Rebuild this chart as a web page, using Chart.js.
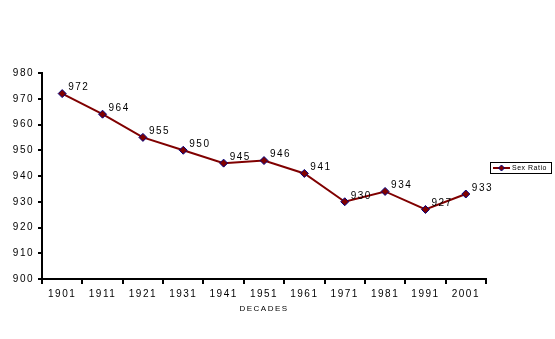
<!DOCTYPE html>
<html><head><meta charset="utf-8">
<script src="https://cdn.jsdelivr.net/npm/chart.js@4/dist/chart.umd.min.js"></script>
<style>html,body{margin:0;padding:0;background:#fff}#wrap{width:555px;height:339px;position:relative}</style>
</head><body><div id="wrap"><canvas id="c"></canvas></div>
<script>
const decades = ['1901','1911','1921','1931','1941','1951','1961','1971','1981','1991','2001'];
const sexRatio = [972, 964, 955, 950, 945, 946, 941, 930, 934, 927, 933];
const seriesName = 'Sex Ratio';
const xTitle = 'DECADES';
const yMin = 900, yMax = 980, yStep = 10;

const FONT = '"Liberation Sans", Arial, sans-serif';
const SPACING = '1.5px';

const spacingPlugin = {
  id: 'spacing',
  beforeLayout(chart) { chart.ctx.letterSpacing = SPACING; },
  beforeDraw(chart) { chart.ctx.letterSpacing = SPACING; }
};

const labelPlugin = {
  id: 'pointLabels',
  afterDatasetsDraw(chart) {
    const ctx = chart.ctx;
    const meta = chart.getDatasetMeta(0);
    ctx.save();
    ctx.letterSpacing = SPACING;
    ctx.font = '10px ' + FONT;
    ctx.fillStyle = '#000';
    ctx.textAlign = 'left';
    ctx.textBaseline = 'middle';
    meta.data.forEach((pt, i) => {
      ctx.fillText(String(sexRatio[i]), pt.x + 6, pt.y - 6);
    });
    ctx.restore();
  }
};

const legendPlugin = {
  id: 'boxLegend',
  afterDraw(chart) {
    const ctx = chart.ctx;
    const x = chart.chartArea.right + 4, y = 162, w = 61, h = 11;
    ctx.save();
    ctx.strokeStyle = '#000';
    ctx.lineWidth = 1;
    ctx.strokeRect(x + 0.5, y + 0.5, w, h);
    ctx.strokeStyle = '#800000';
    ctx.lineWidth = 2;
    ctx.beginPath(); ctx.moveTo(x + 3, y + 6); ctx.lineTo(x + 20, y + 6); ctx.stroke();
    ctx.fillStyle = '#800000';
    ctx.strokeStyle = '#000080';
    ctx.lineWidth = 1;
    const cx = x + 11.5, cy = y + 6;
    ctx.beginPath(); ctx.moveTo(cx, cy - 3); ctx.lineTo(cx + 3, cy); ctx.lineTo(cx, cy + 3); ctx.lineTo(cx - 3, cy); ctx.closePath();
    ctx.fill(); ctx.stroke();
    ctx.fillStyle = '#000';
    ctx.letterSpacing = '0.5px';
    ctx.font = '7px ' + FONT;
    ctx.textBaseline = 'middle';
    ctx.fillText(seriesName, x + 22, y + 6.5);
    ctx.restore();
  }
};

new Chart(document.getElementById('c'), {
  type: 'line',
  data: {
    labels: decades,
    datasets: [{
      label: seriesName,
      data: sexRatio,
      borderColor: '#800000',
      borderWidth: 2,
      pointStyle: 'rectRot',
      pointRadius: 4,
      pointBackgroundColor: '#800000',
      pointBorderColor: '#000080',
      pointBorderWidth: 1,
      tension: 0,
      fill: false
    }]
  },
  options: {
    responsive: true,
    maintainAspectRatio: false,
    animation: false,
    devicePixelRatio: 1,
    layout: { padding: { left: 0, right: 69, top: 73, bottom: 0 } },
    plugins: { legend: { display: false }, tooltip: { enabled: false } },
    scales: {
      x: {
        type: 'category',
        offset: true,
        grid: { display: true, offset: true, drawOnChartArea: false, drawTicks: true, tickLength: 5, color: '#000', lineWidth: 2 },
        border: { display: true, color: '#000', width: 2 },
        ticks: { color: '#000', font: { family: FONT, size: 10 }, padding: 4, maxRotation: 0, autoSkip: false },
        title: { display: true, text: xTitle, color: '#000', font: { family: FONT, size: 8 }, padding: { top: 2, bottom: 25 } },
        afterFit(s) { s.height = 60; }
      },
      y: {
        min: yMin, max: yMax,
        ticks: { stepSize: yStep, color: '#000', font: { family: FONT, size: 10 }, padding: 4 },
        grid: { display: true, drawOnChartArea: false, drawTicks: true, tickLength: 4, color: '#000', lineWidth: 2 },
        border: { display: true, color: '#000', width: 2 },
        afterFit(s) { s.width = 42; }
      }
    }
  },
  plugins: [spacingPlugin, labelPlugin, legendPlugin]
});
</script></body></html>
